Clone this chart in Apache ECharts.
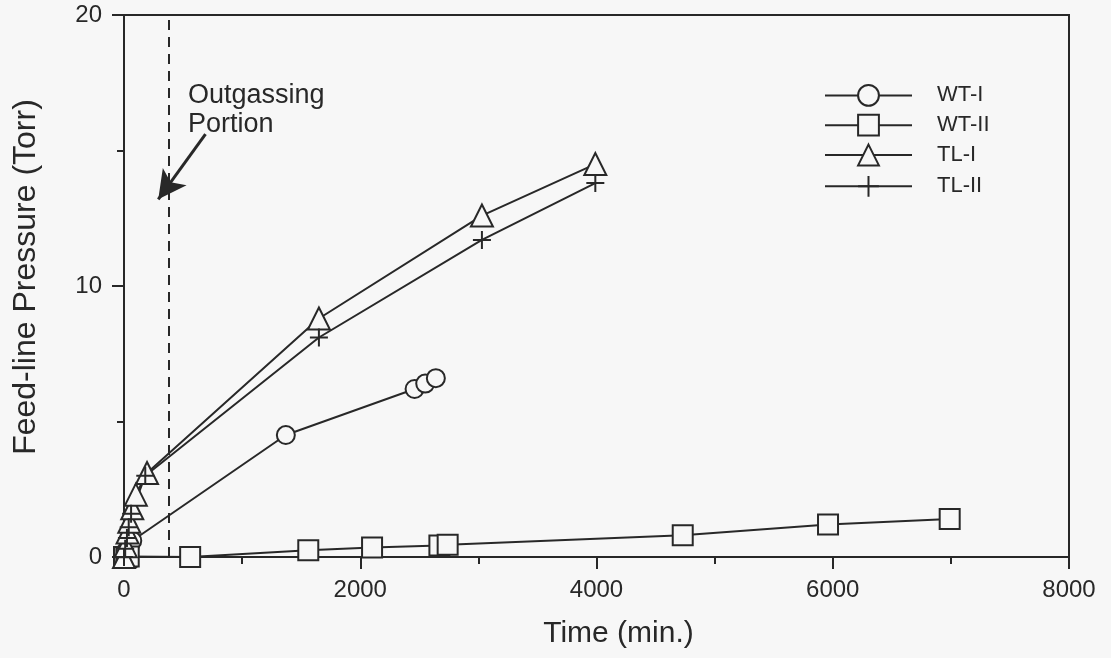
<!DOCTYPE html>
<html>
<head>
<meta charset="utf-8">
<script src="https://cdn.jsdelivr.net/npm/echarts@6/dist/echarts.min.js"></script>
<style>
  html, body { margin: 0; padding: 0; background: #f7f7f7; }
  #chart { width: 1111px; height: 658px; }
</style>
</head>
<body>
<div id="chart"></div>
<script>
// Data: [time (min.), pressure (Torr)]
const wt1 = [[0, 0], [15, 0.15], [30, 0.3], [50, 0.45], [70, 0.6], [1370, 4.5], [2460, 6.2], [2550, 6.4], [2640, 6.6]];
const wt2 = [[0, 0], [20, 0], [40, 0.02], [560, 0], [1560, 0.25], [2100, 0.35], [2670, 0.42], [2740, 0.45], [4730, 0.8], [5960, 1.2], [6990, 1.4]];
const tl1 = [[0, 0], [15, 0.4], [30, 0.9], [45, 1.3], [70, 1.8], [100, 2.3], [195, 3.1], [1650, 8.8], [3030, 12.6], [3990, 14.5]];
const tl2 = [[0, 0], [10, 0.3], [25, 0.7], [40, 1.1], [60, 1.6], [180, 3.0], [1650, 8.1], [3030, 11.7], [3990, 13.8]];
const outgasTime = 380;
const arrowFrom = [690, 15.6];
const arrowTo = [290, 13.2];

const ink = "#282828";
const paper = "#f7f7f7";
const font = "Liberation Sans";

const chart = echarts.init(document.getElementById("chart"));

function openStyle() {
  return { color: paper, borderColor: ink, borderWidth: 2 };
}

const option = {
  backgroundColor: paper,
  animation: false,
  textStyle: { fontFamily: font, color: ink },
  grid: {
    left: 124, right: 42, top: 15, bottom: 101,
    show: true, borderColor: ink, borderWidth: 2, backgroundColor: "transparent"
  },
  legend: {
    orient: "vertical",
    left: 819, top: 79,
    itemWidth: 87, itemHeight: 26, itemGap: 7,
    textStyle: { fontSize: 22, color: ink, fontFamily: font, padding: [0, 0, 0, 20] },
    data: ["WT-I", "WT-II", "TL-I", "TL-II"]
  },
  xAxis: {
    type: "value", min: 0, max: 8000, interval: 2000,
    name: "Time (min.)", nameLocation: "middle", nameGap: 62,
    nameTextStyle: { fontSize: 30, color: ink, padding: [0, 0, 0, 44] },
    axisLine: { lineStyle: { color: ink, width: 2 } },
    axisTick: { length: 12, lineStyle: { color: ink, width: 2 } },
    minorTick: { show: true, splitNumber: 2, length: 7, lineStyle: { color: ink, width: 2 } },
    axisLabel: { fontSize: 24, color: ink, margin: 21, formatter: (v) => String(v) },
    splitLine: { show: false }
  },
  yAxis: {
    type: "value", min: 0, max: 20, interval: 10,
    name: "Feed-line Pressure (Torr)", nameLocation: "middle", nameGap: 82,
    nameTextStyle: { fontSize: 32, color: ink, padding: [0, 0, 0, 18] },
    axisLine: { lineStyle: { color: ink, width: 2 } },
    axisTick: { length: 12, lineStyle: { color: ink, width: 2 } },
    minorTick: { show: true, splitNumber: 2, length: 7, lineStyle: { color: ink, width: 2 } },
    axisLabel: { fontSize: 24, color: ink, margin: 22 },
    splitLine: { show: false }
  },
  graphic: [
    {
      type: "text", left: 188, top: 81,
      style: { text: "Outgassing\nPortion", fontSize: 27, lineHeight: 29, fill: ink, fontFamily: font }
    }
  ],
  series: [
    {
      name: "WT-I", type: "line", data: wt1,
      symbol: "circle", symbolSize: 18,
      itemStyle: openStyle(),
      lineStyle: { color: ink, width: 2 },
      markLine: {
        silent: true, symbol: ["none", "none"], label: { show: false },
        lineStyle: { color: ink, width: 2, type: [10, 7] },
        data: [{ xAxis: outgasTime }]
      }
    },
    {
      name: "WT-II", type: "line", data: wt2,
      symbol: "rect", symbolSize: 20,
      itemStyle: openStyle(),
      lineStyle: { color: ink, width: 2 },
      markLine: {
        silent: true, symbol: ["none", "arrow"], symbolSize: [22, 28], label: { show: false },
        lineStyle: { color: ink, width: 3, type: "solid" },
        data: [[{ coord: arrowFrom }, { coord: arrowTo }]]
      }
    },
    {
      name: "TL-I", type: "line", data: tl1,
      symbol: "triangle", symbolSize: 22,
      itemStyle: openStyle(),
      lineStyle: { color: ink, width: 2 }
    },
    {
      name: "TL-II", type: "line", data: tl2,
      symbol: "path://M10,0 L10,20 M0,10 L20,10 Z", symbolSize: 18,
      itemStyle: { color: "none", borderColor: ink, borderWidth: 2 },
      lineStyle: { color: ink, width: 2 }
    }
  ]
};

chart.setOption(option);
</script>
</body>
</html>
